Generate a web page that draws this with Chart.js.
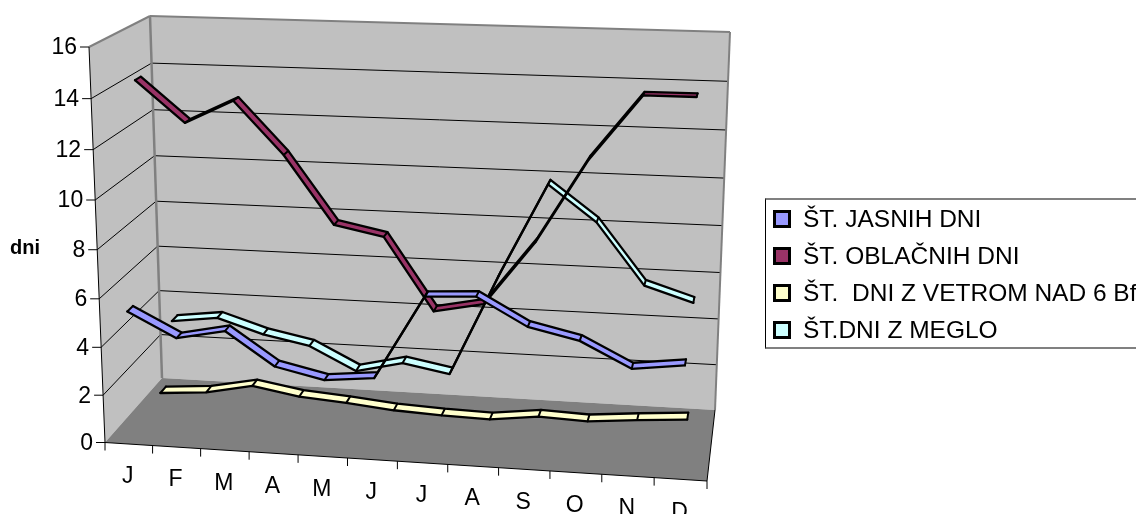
<!DOCTYPE html>
<html>
<head>
<meta charset="utf-8">
<style>
  html, body { margin: 0; padding: 0; background: #fff; overflow: hidden; }
  #wrap { position: relative; width: 1136px; height: 514px; overflow: hidden; }
  #legend {
    position: absolute; left: 765px; top: 198px; width: 420px; height: 151px;
    box-sizing: border-box; border: 1px solid #000; border-top: 2px solid #808080; border-bottom: 2px solid #808080;
    font: 24.5px "Liberation Sans", Arial, sans-serif; color: #000;
  }
  #legend div { position: absolute; left: 37px; white-space: pre; line-height: 28px; }
  #legend i { position: absolute; left: -30px; top: 5px; width: 12px; height: 12px; border: 3px solid #000; }
</style>
<script src="https://cdn.jsdelivr.net/npm/chart.js@4"></script>
</head>
<body>
<div id="wrap">
  <canvas id="chart" width="1136" height="514"></canvas>
  <div id="legend"></div>
</div>
<script>
const months = ['J', 'F', 'M', 'A', 'M', 'J', 'J', 'A', 'S', 'O', 'N', 'D'];
const yTicks = [0, 2, 4, 6, 8, 10, 12, 14, 16];

const jasnihDni = [5.4, 4.4, 4.8, 3.45, 3.0, 3.2, 6.6, 6.7, 5.6, 5.15, 4.15, 4.4];
const oblacnihDni = [14.3, 12.65, 13.6, 11.5, 8.75, 8.35, 5.4, 5.8, 8.4, 11.75, 14.3, 14.3];
const vetrovnihDni = [0.6, 0.75, 1.15, 0.8, 0.65, 0.45, 0.35, 0.3, 0.55, 0.47, 0.65, 0.8];
const meglenihDni = [3.15, 3.4, 2.77, 2.37, 1.37, 1.84, 1.47, 5.8, 9.8, 8.3, 5.73, 5.1];

const seriesNames = ['ŠT. JASNIH DNI', 'ŠT. OBLAČNIH DNI', 'ŠT.  DNI Z VETROM NAD 6 Bf', 'ŠT.DNI Z MEGLO'];
const seriesValues = [jasnihDni, oblacnihDni, vetrovnihDni, meglenihDni];
const seriesColors = ['#9999FF', '#993366', '#FFFFCC', '#CCFFFF'];
// front and back edge of each ribbon, 0 = front of the box, 1 = back wall
const seriesDepths = [[0.06, 0.16], [0.33, 0.43], [0.58, 0.68], [0.82, 0.92]];

// corners of the 3d box as seen on the page: [u=0 v=0, u=1 v=0, u=1 v=1, u=0 v=1]
const frontPlane = [[105, 442.5], [707, 481], [723, 63], [89, 47]];
const backPlane = [[162, 378], [715, 410], [730, 32], [150, 16]];

function quadMap(q) {
    const [[x0, y0], [x1, y1], [x2, y2], [x3, y3]] = q;
    const dx1 = x1 - x2, dx2 = x3 - x2, sx = x0 - x1 + x2 - x3;
    const dy1 = y1 - y2, dy2 = y3 - y2, sy = y0 - y1 + y2 - y3;
    const den = dx1 * dy2 - dx2 * dy1;
    const g = (sx * dy2 - dx2 * sy) / den;
    const h = (dx1 * sy - sx * dy1) / den;
    return (u, v) => {
        const w = g * u + h * v + 1;
        return [
            ((x1 - x0 + g * x1) * u + (x3 - x0 + h * x3) * v + x0) / w,
            ((y1 - y0 + g * y1) * u + (y3 - y0 + h * y3) * v + y0) / w,
        ];
    };
}
const frontMap = quadMap(frontPlane);
const backMap = quadMap(backPlane);

function project(u, v, depth) {
    const f = frontMap(u, v);
    const b = backMap(u, v);
    return [f[0] + (b[0] - f[0]) * depth, f[1] + (b[1] - f[1]) * depth];
}

function poly(ctx, pts, fill) {
    ctx.beginPath();
    pts.forEach((p, i) => (i ? ctx.lineTo(p[0], p[1]) : ctx.moveTo(p[0], p[1])));
    ctx.closePath();
    ctx.fillStyle = fill;
    ctx.fill();
}

function seg(ctx, a, b, color, width) {
    ctx.beginPath();
    ctx.moveTo(a[0], a[1]);
    ctx.lineTo(b[0], b[1]);
    ctx.strokeStyle = color;
    ctx.lineWidth = width;
    ctx.stroke();
}

// takes the points laid out by the flat scales and moves them into the box
const boxProjection = {
    id: 'boxProjection',
    afterDatasetsUpdate(chart) {
        const area = chart.chartArea;
        chart.data.datasets.forEach((ds, i) => {
            chart.getDatasetMeta(i).data.forEach((pt) => {
                const u = (pt.x - area.left) / area.width;
                const v = (area.bottom - pt.y) / area.height;
                const p = project(u, v, ds.depth);
                pt.x = p[0];
                pt.y = p[1];
            });
        });
    },
    beforeDatasetsDraw(chart) {
        const ctx = chart.ctx;
        const yMax = yTicks[yTicks.length - 1];
        const wallGrey = '#C0C0C0', edgeGrey = '#808080';
        ctx.save();
        ctx.lineJoin = 'miter';

        poly(ctx, [project(0, 0, 0), project(0, 0, 1), project(0, 1, 1), project(0, 1, 0)], wallGrey);
        poly(ctx, backPlane, wallGrey);
        poly(ctx, [project(0, 0, 0), project(1, 0, 0), project(1, 0, 1), project(0, 0, 1)], edgeGrey);

        yTicks.slice(1, -1).forEach((t) => {
            const v = t / yMax;
            seg(ctx, project(0, v, 0), project(0, v, 1), '#000', 1);
            seg(ctx, project(0, v, 1), project(1, v, 1), '#000', 1);
        });

        seg(ctx, project(0, 1, 0), project(0, 1, 1), edgeGrey, 2);
        seg(ctx, project(0, 1, 1), project(1, 1, 1), edgeGrey, 2);
        seg(ctx, project(1, 1, 1), project(1, 0, 1), edgeGrey, 2);
        seg(ctx, project(0, 1, 1), project(0, 0, 1), edgeGrey, 2.5);

        // outer axes
        seg(ctx, project(0, 1, 0), project(0, 0, 0), '#000', 1);
        seg(ctx, project(0, 0, 0), project(1, 0, 0), '#000', 1);
        seg(ctx, project(1, 0, 0), project(1, 0, 1), '#000', 1);

        ctx.fillStyle = '#000';
        ctx.font = '23px "Liberation Sans", Arial, sans-serif';
        ctx.textBaseline = 'middle';
        ctx.textAlign = 'right';
        yTicks.forEach((t) => {
            const p = project(0, t / yMax, 0);
            seg(ctx, [p[0] - 9, p[1]], p, '#000', 1);
            ctx.fillStyle = '#000';
            ctx.fillText(String(t), p[0] - 12, p[1] + 1);
        });
        ctx.textAlign = 'center';
        months.forEach((m, i) => {
            const tick = project(i / months.length, 0, 0);
            seg(ctx, tick, [tick[0], tick[1] + 8], '#000', 1);
            const p = project((i + 0.5) / months.length, 0, 0);
            ctx.fillStyle = '#000';
            ctx.fillText(m, p[0] - 1, p[1] + 33);
        });
        const last = project(1, 0, 0);
        seg(ctx, last, [last[0], last[1] + 8], '#000', 1);

        ctx.font = 'bold 20px "Liberation Sans", Arial, sans-serif';
        ctx.textAlign = 'left';
        ctx.fillText('dni', 10, 248);
        ctx.restore();
    },
    beforeDatasetDraw(chart, args) {
        const ds = chart.data.datasets[args.index];
        if (!ds.isBack) return;
        const ctx = chart.ctx;
        const back = chart.getDatasetMeta(args.index).data;
        const front = chart.getDatasetMeta(args.index - 1).data;
        for (let i = 0; i < back.length - 1; i++) {
            poly(ctx, [[front[i].x, front[i].y], [front[i + 1].x, front[i + 1].y],
                [back[i + 1].x, back[i + 1].y], [back[i].x, back[i].y]], ds.ribbonColor);
        }
    },
    afterDatasetDraw(chart, args) {
        const ds = chart.data.datasets[args.index];
        if (ds.isBack) return;
        const ctx = chart.ctx;
        const front = chart.getDatasetMeta(args.index).data;
        const back = chart.getDatasetMeta(args.index + 1).data;
        ctx.save();
        ctx.lineCap = 'round';
        front.forEach((p, i) => seg(ctx, [p.x, p.y], [back[i].x, back[i].y], '#000', 2));
        ctx.restore();
    },
};

const datasets = [];
seriesNames.forEach((name, s) => {
    [0, 1].forEach((edge) => {
        datasets.push({
            label: name,
            data: seriesValues[s],
            depth: seriesDepths[s][edge],
            isBack: edge === 1,
            ribbonColor: seriesColors[s],
            borderColor: '#000',
            borderWidth: 2.3,
            borderJoinStyle: 'round',
            borderCapStyle: 'round',
            pointRadius: 0,
            tension: 0,
            fill: false,
            clip: false,
        });
    });
});

new Chart(document.getElementById('chart').getContext('2d'), {
    type: 'line',
    data: { labels: months, datasets: datasets },
    options: {
        responsive: false,
        animation: false,
        events: [],
        layout: { padding: 0 },
        scales: {
            x: { display: false, offset: true },
            y: { display: false, min: 0, max: 16 },
        },
        plugins: {
            legend: { display: false },
            tooltip: { enabled: false },
        },
    },
    plugins: [boxProjection],
});

const legendEl = document.getElementById('legend');
const legendRows = [5, 42, 79, 116];
seriesNames.forEach((name, s) => {
    const row = document.createElement('div');
    row.style.top = legendRows[s] + 'px';
    row.textContent = name;
    const mark = document.createElement('i');
    mark.style.background = seriesColors[s];
    row.appendChild(mark);
    legendEl.appendChild(row);
});
</script>
</body>
</html>
